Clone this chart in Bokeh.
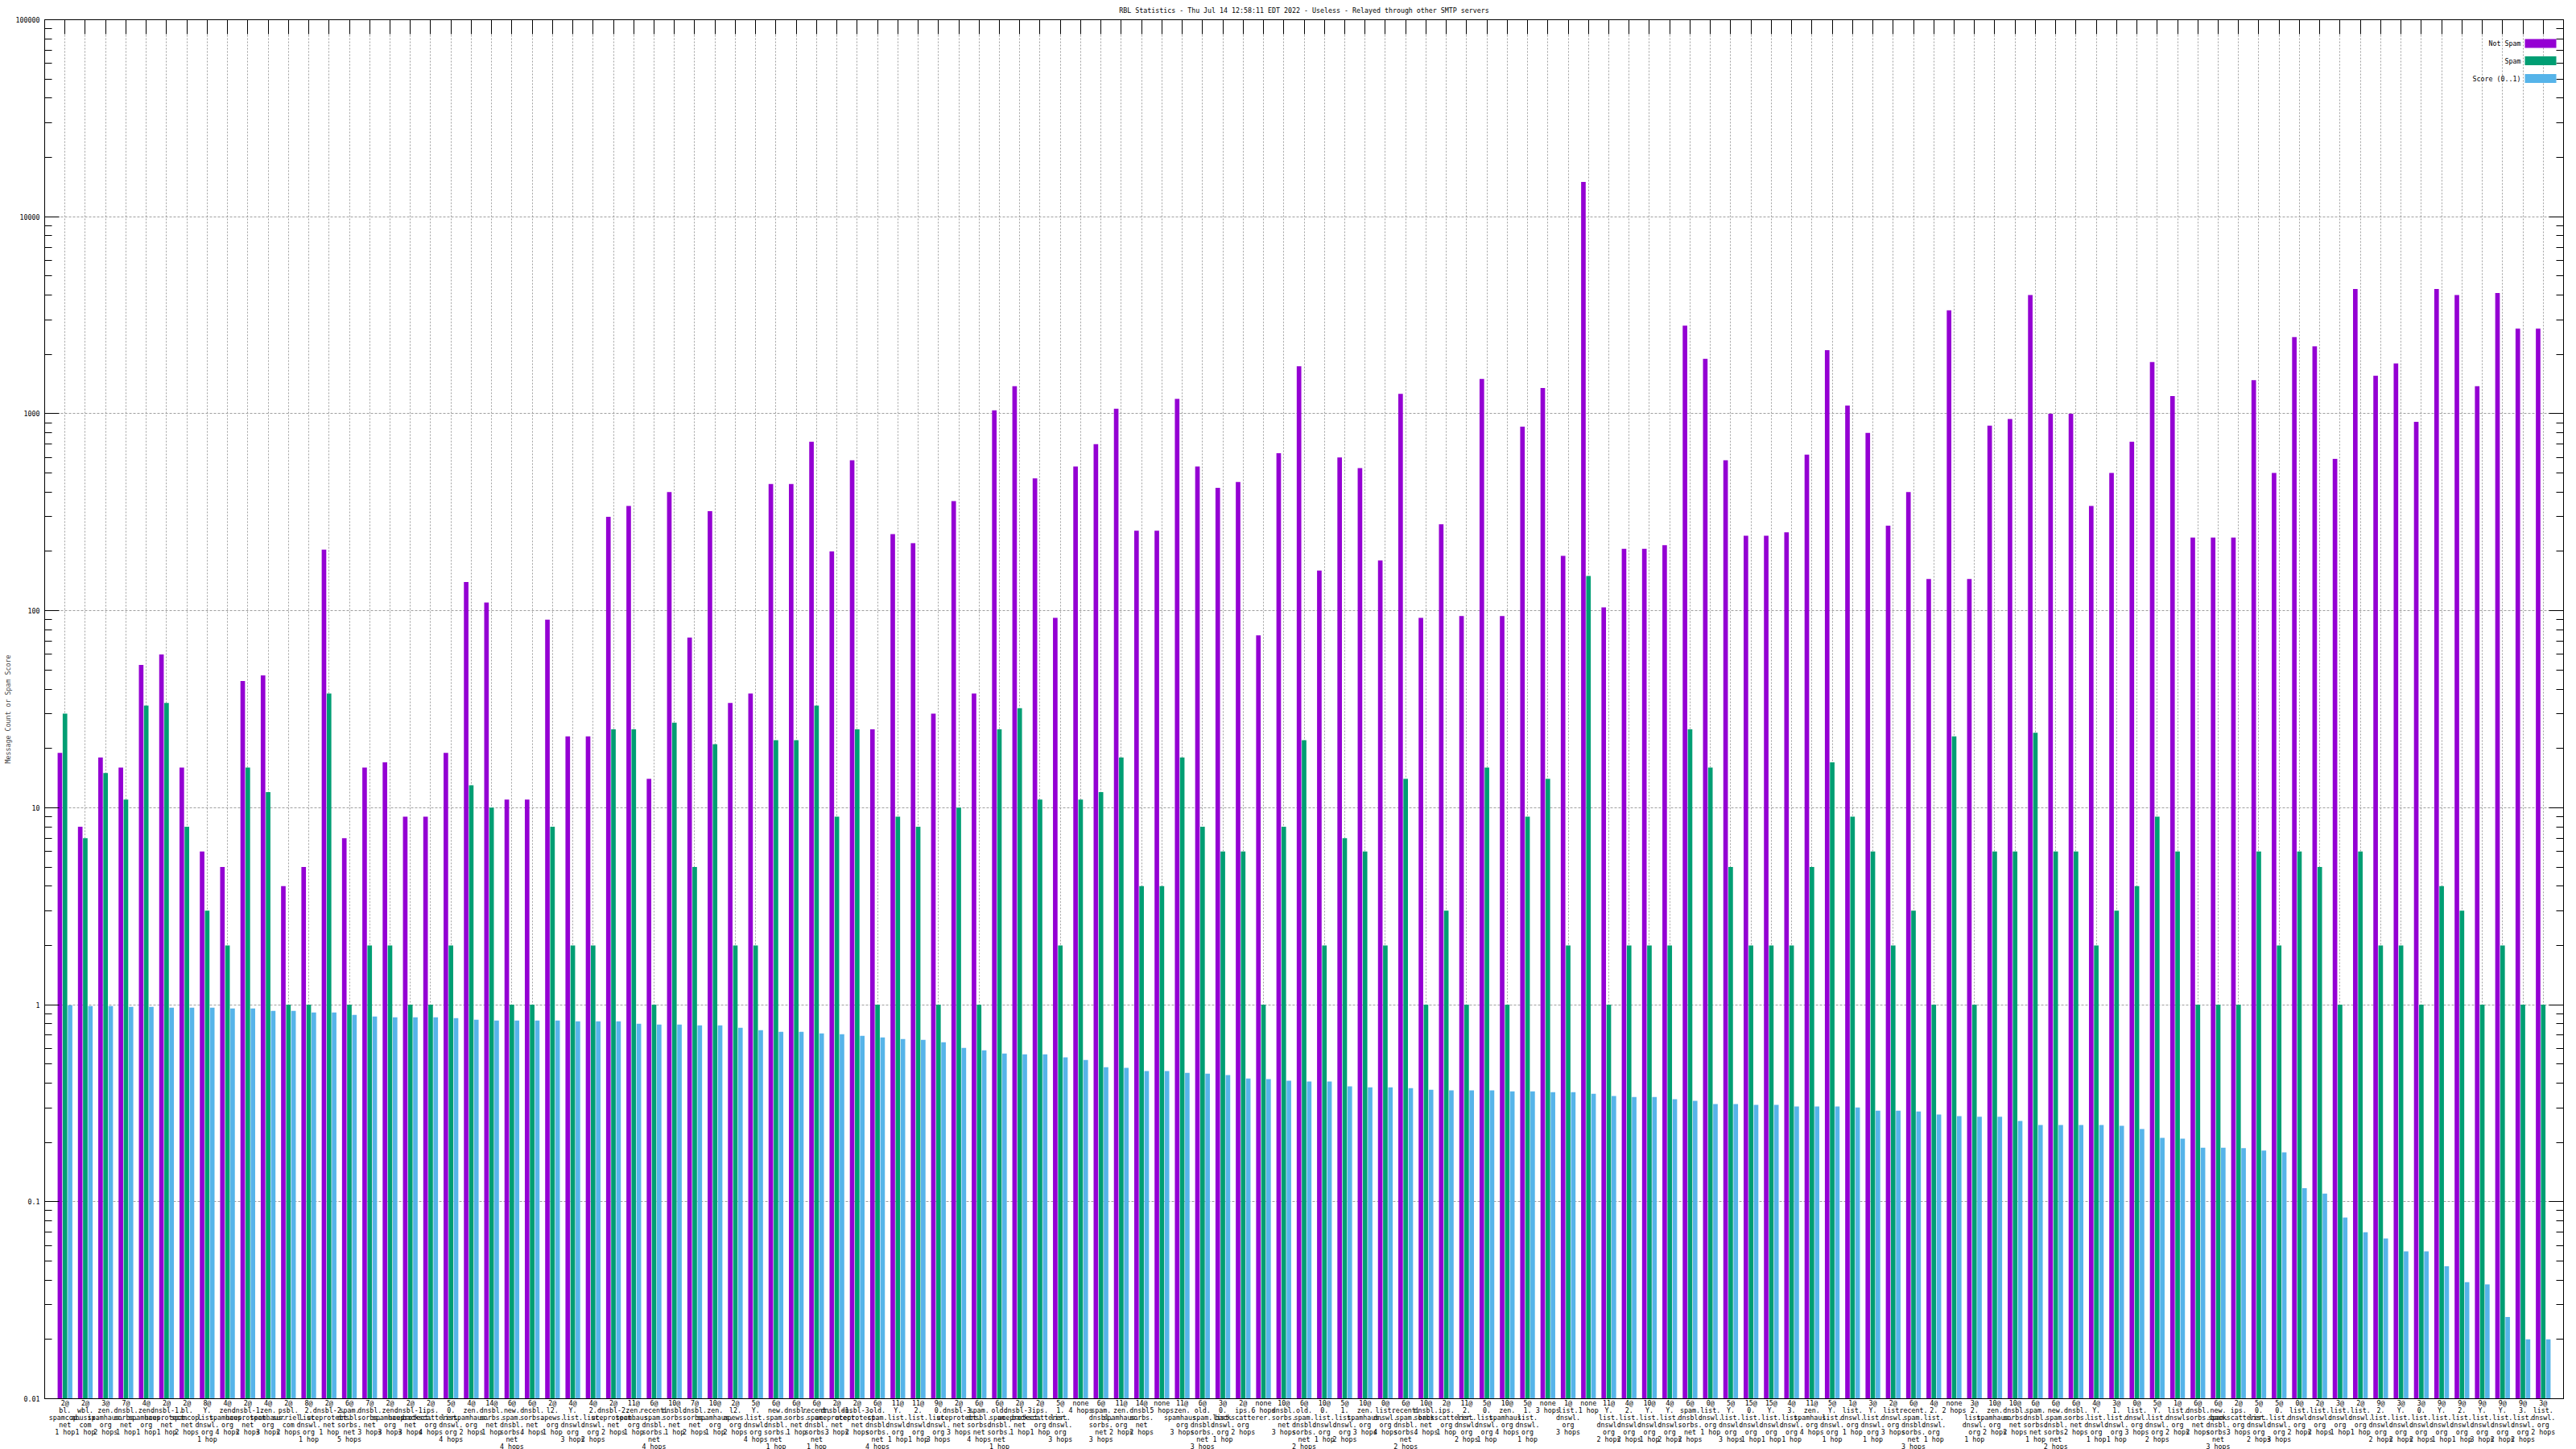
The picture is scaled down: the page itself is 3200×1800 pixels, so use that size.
from bokeh.plotting import figure
from bokeh.models import (Range1d, LogAxis, LinearAxis, FixedTicker, ColumnDataSource,
                          Label, BoxAnnotation, CustomJSTickFormatter, CustomLabelingPolicy)
from bokeh.embed import file_html
from bokeh.resources import INLINE

title_text = "RBL Statistics - Thu Jul 14 12:58:11 EDT 2022 - Useless - Relayed through other SMTP servers"
y_label = "Message Count or Spam Score"
series_names = ["Not Spam", "Spam", "Score (0..1)"]
series_colors = ["#9400D3", "#009E73", "#56B4E9"]

labels = [
    "2@\nbl.\nspamcop.\nnet\n1 hop", "2@\nwbl.\nabusix.\ncom\n1 hop", "3@\nzen.\nspamhaus.\norg\n2 hops",
    "7@\ndnsbl.\nsorbs.\nnet\n1 hop", "4@\nzen.\nspamhaus.\norg\n1 hop", "2@\ndnsbl-1.\nuceprotect.\nnet\n1 hop",
    "2@\nbl.\nspamcop.\nnet\n2 hops", "8@\nY.\nlist.\ndnswl.\norg\n1 hop", "4@\nzen.\nspamhaus.\norg\n4 hops",
    "2@\ndnsbl-1.\nuceprotect.\nnet\n2 hops", "4@\nzen.\nspamhaus.\norg\n3 hops", "2@\npsbl.\nsurriel.\ncom\n2 hops",
    "8@\n2.\nlist.\ndnswl.\norg\n1 hop", "2@\ndnsbl-2.\nuceprotect.\nnet\n1 hop", "6@\nspam.\ndnsbl.\nsorbs.\nnet\n5 hops",
    "7@\ndnsbl.\nsorbs.\nnet\n3 hops", "2@\nzen.\nspamhaus.\norg\n3 hops", "2@\ndnsbl-1.\nuceprotect.\nnet\n3 hops",
    "2@\nips.\nbackscatterer.\norg\n4 hops", "5@\n0.\nlist.\ndnswl.\norg\n4 hops", "4@\nzen.\nspamhaus.\norg\n2 hops",
    "14@\ndnsbl.\nsorbs.\nnet\n1 hop", "6@\nnew.\nspam.\ndnsbl.\nsorbs.\nnet\n4 hops", "6@\ndnsbl.\nsorbs.\nnet\n4 hops",
    "2@\nl2.\napews.\norg\n1 hop", "4@\nY.\nlist.\ndnswl.\norg\n3 hops", "4@\n2.\nlist.\ndnswl.\norg\n2 hops",
    "2@\ndnsbl-2.\nuceprotect.\nnet\n2 hops", "11@\nzen.\nspamhaus.\norg\n1 hop", "6@\nrecent.\nspam.\ndnsbl.\nsorbs.\nnet\n4 hops",
    "10@\ndnsbl.\nsorbs.\nnet\n1 hop", "7@\ndnsbl.\nsorbs.\nnet\n2 hops", "10@\nzen.\nspamhaus.\norg\n1 hop",
    "2@\nl2.\napews.\norg\n2 hops", "5@\nY.\nlist.\ndnswl.\norg\n4 hops", "6@\nnew.\nspam.\ndnsbl.\nsorbs.\nnet\n1 hop",
    "6@\ndnsbl.\nsorbs.\nnet\n1 hop", "6@\nrecent.\nspam.\ndnsbl.\nsorbs.\nnet\n1 hop", "2@\ndnsbl-1.\nuceprotect.\nnet\n3 hops",
    "2@\ndnsbl-3.\nuceprotect.\nnet\n2 hops", "6@\nold.\nspam.\ndnsbl.\nsorbs.\nnet\n4 hops", "11@\nY.\nlist.\ndnswl.\norg\n1 hop",
    "11@\n2.\nlist.\ndnswl.\norg\n1 hop", "9@\n0.\nlist.\ndnswl.\norg\n3 hops", "2@\ndnsbl-3.\nuceprotect.\nnet\n3 hops",
    "6@\nspam.\ndnsbl.\nsorbs.\nnet\n4 hops", "6@\nold.\nspam.\ndnsbl.\nsorbs.\nnet\n1 hop", "2@\ndnsbl-3.\nuceprotect.\nnet\n1 hop",
    "2@\nips.\nbackscatterer.\norg\n1 hop", "5@\n1.\nlist.\ndnswl.\norg\n3 hops", "none\n4 hops",
    "6@\nspam.\ndnsbl.\nsorbs.\nnet\n3 hops", "11@\nzen.\nspamhaus.\norg\n2 hops", "14@\ndnsbl.\nsorbs.\nnet\n2 hops",
    "none\n5 hops", "11@\nzen.\nspamhaus.\norg\n3 hops", "6@\nold.\nspam.\ndnsbl.\nsorbs.\nnet\n3 hops",
    "3@\n0.\nlist.\ndnswl.\norg\n1 hop", "2@\nips.\nbackscatterer.\norg\n2 hops", "none\n6 hops",
    "10@\ndnsbl.\nsorbs.\nnet\n3 hops", "6@\nold.\nspam.\ndnsbl.\nsorbs.\nnet\n2 hops", "10@\n0.\nlist.\ndnswl.\norg\n1 hop",
    "5@\n1.\nlist.\ndnswl.\norg\n2 hops", "10@\nzen.\nspamhaus.\norg\n3 hops", "0@\nlist.\ndnswl.\norg\n4 hops",
    "6@\nrecent.\nspam.\ndnsbl.\nsorbs.\nnet\n2 hops", "10@\ndnsbl.\nsorbs.\nnet\n4 hops", "2@\nips.\nbackscatterer.\norg\n1 hop",
    "11@\n2.\nlist.\ndnswl.\norg\n2 hops", "5@\n0.\nlist.\ndnswl.\norg\n1 hop", "10@\nzen.\nspamhaus.\norg\n4 hops",
    "5@\n1.\nlist.\ndnswl.\norg\n1 hop", "none\n3 hops", "1@\nlist.\ndnswl.\norg\n3 hops",
    "none\n1 hop", "11@\nY.\nlist.\ndnswl.\norg\n2 hops", "4@\n2.\nlist.\ndnswl.\norg\n2 hops",
    "10@\nY.\nlist.\ndnswl.\norg\n1 hop", "4@\nY.\nlist.\ndnswl.\norg\n2 hops", "6@\nspam.\ndnsbl.\nsorbs.\nnet\n2 hops",
    "0@\nlist.\ndnswl.\norg\n1 hop", "5@\nY.\nlist.\ndnswl.\norg\n3 hops", "15@\n0.\nlist.\ndnswl.\norg\n1 hop",
    "15@\nY.\nlist.\ndnswl.\norg\n1 hop", "4@\n3.\nlist.\ndnswl.\norg\n1 hop", "11@\nzen.\nspamhaus.\norg\n4 hops",
    "5@\nY.\nlist.\ndnswl.\norg\n1 hop", "1@\nlist.\ndnswl.\norg\n1 hop", "3@\nY.\nlist.\ndnswl.\norg\n1 hop",
    "2@\nlist.\ndnswl.\norg\n3 hops", "6@\nrecent.\nspam.\ndnsbl.\nsorbs.\nnet\n3 hops", "4@\n2.\nlist.\ndnswl.\norg\n1 hop",
    "none\n2 hops", "3@\n2.\nlist.\ndnswl.\norg\n1 hop", "10@\nzen.\nspamhaus.\norg\n2 hops",
    "10@\ndnsbl.\nsorbs.\nnet\n2 hops", "6@\nspam.\ndnsbl.\nsorbs.\nnet\n1 hop", "6@\nnew.\nspam.\ndnsbl.\nsorbs.\nnet\n2 hops",
    "6@\ndnsbl.\nsorbs.\nnet\n2 hops", "4@\nY.\nlist.\ndnswl.\norg\n1 hop", "3@\n1.\nlist.\ndnswl.\norg\n1 hop",
    "0@\nlist.\ndnswl.\norg\n3 hops", "5@\nY.\nlist.\ndnswl.\norg\n2 hops", "1@\nlist.\ndnswl.\norg\n2 hops",
    "6@\ndnsbl.\nsorbs.\nnet\n2 hops", "6@\nnew.\nspam.\ndnsbl.\nsorbs.\nnet\n3 hops", "2@\nips.\nbackscatterer.\norg\n3 hops",
    "5@\n0.\nlist.\ndnswl.\norg\n2 hops", "5@\n0.\nlist.\ndnswl.\norg\n3 hops", "0@\nlist.\ndnswl.\norg\n2 hops",
    "2@\nlist.\ndnswl.\norg\n2 hops", "3@\nlist.\ndnswl.\norg\n1 hop", "2@\nlist.\ndnswl.\norg\n1 hop",
    "9@\n2.\nlist.\ndnswl.\norg\n2 hops", "3@\nY.\nlist.\ndnswl.\norg\n2 hops", "3@\n0.\nlist.\ndnswl.\norg\n2 hops",
    "9@\nY.\nlist.\ndnswl.\norg\n1 hop", "9@\n2.\nlist.\ndnswl.\norg\n1 hop", "9@\nY.\nlist.\ndnswl.\norg\n3 hops",
    "9@\nY.\nlist.\ndnswl.\norg\n2 hops", "9@\n3.\nlist.\ndnswl.\norg\n2 hops", "3@\nlist.\ndnswl.\norg\n2 hops",
]

not_spam = [
    19, 8, 18, 16, 53, 60, 16, 6, 5, 44,
    47, 4, 5, 204, 7, 16, 17, 9, 9, 19,
    140, 110, 11, 11, 90, 23, 23, 300, 340, 14,
    400, 73, 320, 34, 38, 440, 440, 720, 200, 580,
    25, 245, 220, 30, 360, 38, 1040, 1380, 470, 92,
    540, 700, 1060, 255, 255, 1190, 540, 420, 450, 75,
    630, 1740, 160, 600, 530, 180, 1260, 92, 275, 94,
    1500, 94, 860, 1350, 190, 15000, 104, 206, 206, 215,
    2800, 1900, 580, 240, 240, 250, 620, 2100, 1100, 800,
    270, 400, 145, 3350, 145, 870, 940, 4000, 1000, 1000,
    340, 500, 720, 1830, 1230, 235, 235, 235, 1480, 500,
    2450, 2200, 590, 4300, 1560, 1800, 910, 4300, 4000, 1380,
    4100, 2700, 2700,
]

spam = [
    30, 7, 15, 11, 33, 34, 8, 3, 2, 16,
    12, 1, 1, 38, 1, 2, 2, 1, 1, 2,
    13, 10, 1, 1, 8, 2, 2, 25, 25, 1,
    27, 5, 21, 2, 2, 22, 22, 33, 9, 25,
    1, 9, 8, 1, 10, 1, 25, 32, 11, 2,
    11, 12, 18, 4, 4, 18, 8, 6, 6, 1,
    8, 22, 2, 7, 6, 2, 14, 1, 3, 1,
    16, 1, 9, 14, 2, 150, 1, 2, 2, 2,
    25, 16, 5, 2, 2, 2, 5, 17, 9, 6,
    2, 3, 1, 23, 1, 6, 6, 24, 6, 6,
    2, 3, 4, 9, 6, 1, 1, 1, 6, 2,
    6, 5, 1, 6, 2, 2, 1, 4, 3, 1,
    2, 1, 1,
]

score = [
    0.994, 0.984, 0.984, 0.975, 0.975, 0.966, 0.966, 0.966, 0.957, 0.957,
    0.930, 0.930, 0.913, 0.913, 0.888, 0.871, 0.863, 0.863, 0.863, 0.855,
    0.839, 0.831, 0.831, 0.831, 0.831, 0.823, 0.823, 0.823, 0.800, 0.793,
    0.793, 0.786, 0.786, 0.764, 0.743, 0.729, 0.729, 0.715, 0.708, 0.695,
    0.682, 0.670, 0.663, 0.645, 0.604, 0.587, 0.565, 0.560, 0.560, 0.540,
    0.524, 0.482, 0.478, 0.460, 0.460, 0.451, 0.447, 0.439, 0.422, 0.419,
    0.411, 0.407, 0.407, 0.385, 0.381, 0.381, 0.377, 0.370, 0.367, 0.367,
    0.367, 0.363, 0.363, 0.360, 0.360, 0.353, 0.344, 0.340, 0.340, 0.331,
    0.325, 0.313, 0.313, 0.310, 0.310, 0.304, 0.304, 0.304, 0.301, 0.290,
    0.290, 0.287, 0.277, 0.272, 0.270, 0.270, 0.257, 0.245, 0.245, 0.245,
    0.245, 0.243, 0.234, 0.211, 0.209, 0.188, 0.188, 0.187, 0.182, 0.178,
    0.117, 0.110, 0.083, 0.070, 0.065, 0.056, 0.056, 0.047, 0.039, 0.038,
    0.026, 0.020, 0.020,
]

y_major = [0.01, 0.1, 1, 10, 100, 1000, 10000, 100000]

FONT = "DejaVu Sans Mono"
FS = "8.3px"
GRID = "#a0a0a0"

n = len(labels)
idx = list(range(n))
y_floor = y_major[0]

src = ColumnDataSource(dict(
    x_ns=[i - 0.25 for i in idx], x_sp=idx, x_sc=[i + 0.25 for i in idx],
    ns=not_spam, sp=spam, sc=score, base=[y_floor] * n,
))

p = figure(frame_width=3129, frame_height=1713,
           x_range=Range1d(-1, n), y_range=Range1d(y_major[0], y_major[-1]),
           y_axis_type="log", output_backend="svg", toolbar_location=None,
           min_border_left=55, min_border_right=16, min_border_top=24, min_border_bottom=62,
           background_fill_color="white", border_fill_color="white")
p.outline_line_color = "black"
p.outline_line_width = 1

bw = 0.225
p.vbar(x="x_ns", top="ns", bottom="base", width=bw, source=src, fill_color=series_colors[0], line_color=None)
p.vbar(x="x_sp", top="sp", bottom="base", width=bw, source=src, fill_color=series_colors[1], line_color=None)
p.vbar(x="x_sc", top="sc", bottom="base", width=bw, source=src, fill_color=series_colors[2], line_color=None)

minor = [m * 10.0 ** k for k in range(-2, 5) for m in range(2, 10)]
yticker = FixedTicker(ticks=y_major, minor_ticks=minor)
xticker = FixedTicker(ticks=idx, minor_ticks=[])

# bottom x axis with multi-line labels
xa = p.xaxis[0]
xa.ticker = xticker
xa.formatter = CustomJSTickFormatter(args=dict(labels=labels),
                                     code="const i = Math.round(tick); return (i >= 0 && i < labels.length) ? labels[i] : '';")
xa.major_tick_in = 0
xa.major_tick_out = 0
xa.minor_tick_in = 0
xa.minor_tick_out = 0
xa.major_label_standoff = 0
xa.major_label_text_font = FONT
xa.major_label_text_font_size = FS
xa.major_label_text_color = "black"
xa.major_label_text_line_height = 0.9
xa.axis_line_color = "black"

# left y axis
ya = p.yaxis[0]
ya.ticker = yticker
ya.formatter = CustomJSTickFormatter(code="return String(tick);")
ya.major_tick_in = 18
ya.major_tick_out = 0
ya.minor_tick_in = 9
ya.minor_tick_out = 0
ya.major_label_standoff = 6
ya.major_label_text_font = FONT
ya.major_label_text_font_size = FS
ya.major_label_text_color = "black"
ya.axis_label = y_label
ya.axis_label_text_font = FONT
ya.axis_label_text_font_size = FS
ya.axis_label_text_font_style = "normal"
ya.axis_label_standoff = 2
ya.axis_line_color = "black"

hide_all = "for (const i of indices) { indices.unset(i) }"

# mirrored right axis (ticks only, no labels)
ra = LogAxis(ticker=yticker, major_tick_in=18, major_tick_out=0, minor_tick_in=9, minor_tick_out=0,
             major_label_text_font_size="1px", major_label_standoff=0, axis_line_color="black",
             major_label_policy=CustomLabelingPolicy(code=hide_all))
p.add_layout(ra, "right")

# mirrored top axis (ticks only, no labels)
ta = LinearAxis(ticker=xticker, major_tick_in=18, major_tick_out=0, minor_tick_in=0, minor_tick_out=0,
                major_label_text_font_size="1px", major_label_standoff=0, axis_line_color="black",
                major_label_policy=CustomLabelingPolicy(code=hide_all))
p.add_layout(ta, "above")

# grid
p.xgrid.ticker = xticker
p.xgrid.grid_line_color = GRID
p.xgrid.grid_line_dash = "2 2"
p.xgrid.grid_line_width = 1
p.ygrid.ticker = FixedTicker(ticks=y_major)
p.ygrid.grid_line_color = GRID
p.ygrid.grid_line_dash = "3 2"
p.ygrid.grid_line_width = 1
p.ygrid.minor_grid_line_color = None

# title
p.title.text = title_text
p.title.align = "center"
p.title.text_font = FONT
p.title.text_font_size = FS
p.title.text_font_style = "normal"
p.title.text_color = "black"
p.title.standoff = 5
p.title.offset = 0

# legend, gnuplot style: text to the left of the colour box
leg_text_right = 3131
leg_box_left, leg_box_right = 3136, 3175
leg_rows = [53.5, 75.0, 97.0]
for name, col, yc in zip(series_names, series_colors, leg_rows):
    p.add_layout(Label(x=leg_text_right, y=yc, x_units="canvas", y_units="canvas", text=name,
                       text_align="right", text_baseline="middle", text_font=FONT,
                       text_font_size=FS, text_color="black"))
    p.add_layout(BoxAnnotation(left=leg_box_left, right=leg_box_right, top=yc - 5.5, bottom=yc + 5.5,
                               left_units="canvas", right_units="canvas", top_units="canvas",
                               bottom_units="canvas", fill_color=col, fill_alpha=1.0, line_color=None,
                               level="overlay"))

open("out.html", "w").write(file_html(p, INLINE))
